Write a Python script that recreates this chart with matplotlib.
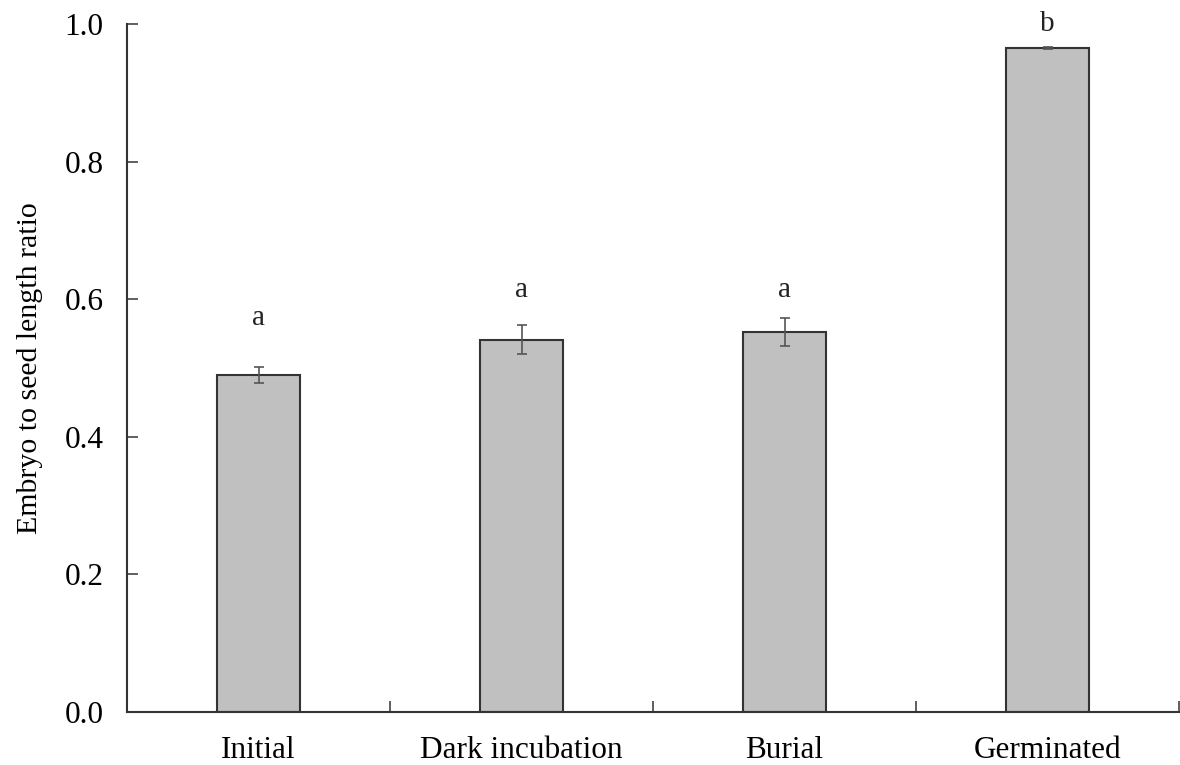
import matplotlib
matplotlib.use("Agg")
import matplotlib.pyplot as plt
import numpy as np

categories = ["Initial", "Dark incubation", "Burial", "Germinated"]
values = [0.49, 0.541, 0.552, 0.965]
errors = [0.012, 0.021, 0.020, 0.002]
letters = ["a", "a", "a", "b"]
letter_pos = [0.572, 0.614, 0.614, 1.0]

plt.rcParams['font.family'] = ['Liberation Serif', 'DejaVu Serif']

fig = plt.figure(figsize=(11.8, 7.65), dpi=100)
ax = fig.add_axes([127/1180, 1 - 712/765, (1179 - 127)/1180, (712 - 24)/765])

x = np.arange(len(categories)) + 0.5
ax.bar(x, values, width=0.316, color="#c0c0c0", edgecolor="#333333", linewidth=1.5, zorder=2)
ax.errorbar(x, values, yerr=errors, fmt="none", ecolor="#555555", elinewidth=1.2,
            capsize=3.5, capthick=1.2, zorder=3)
for xi, lt, ly in zip(x, letters, letter_pos):
    ax.text(xi, ly, lt, ha="center", va="center", fontsize=21, color="#222222")

ax.set_xlim(0, 4)
ax.set_ylim(0, 1.0)
ax.set_yticks(np.arange(0, 1.01, 0.2))
ax.set_yticklabels([f"{v:.1f}" for v in np.arange(0, 1.01, 0.2)], fontsize=22.5)
ax.set_xticks([1, 2, 3, 4])
ax.set_xticklabels([])
ax.set_xticks(x, minor=True)
ax.set_xticklabels(categories, minor=True, fontsize=22.5)
ax.tick_params(axis="x", which="minor", length=0, pad=17)
ax.tick_params(axis="x", which="major", direction="in", length=8, width=1.2, color="#444444")
ax.tick_params(axis="y", direction="in", length=8, width=1.2, color="#444444", pad=17)
for s in ["top", "right"]:
    ax.spines[s].set_visible(False)
for s in ["left", "bottom"]:
    ax.spines[s].set_linewidth(1.5)
    ax.spines[s].set_color("#333333")
ax.set_ylabel("Embryo to seed length ratio", fontsize=21.5)
ax.yaxis.set_label_coords(-0.080, 0.5)

fig.savefig("out.png", dpi=100)
